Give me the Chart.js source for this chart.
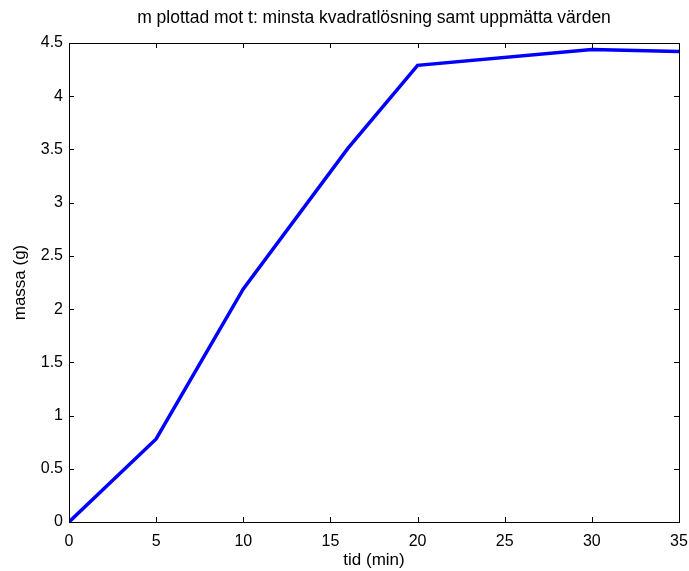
<!DOCTYPE html>
<html>
<head>
<meta charset="utf-8">
<title>m plottad mot t</title>
<script src="https://cdn.jsdelivr.net/npm/chart.js@4.4.1/dist/chart.umd.min.js"></script>
<style>
  html, body { margin: 0; padding: 0; background: #fff; }
  #wrap { width: 689px; height: 571px; }
</style>
</head>
<body>
<div id="wrap"><canvas id="myChart"></canvas></div>
<script>
const tid = [0, 5, 10, 16, 20, 30, 35];
const massa = [0, 0.78, 2.19, 3.51, 4.29, 4.44, 4.42];
const xTicks = [0, 5, 10, 15, 20, 25, 30, 35];
const yTicks = [0, 0.5, 1, 1.5, 2, 2.5, 3, 3.5, 4, 4.5];

const ctx = document.getElementById('myChart');
const font = "'Liberation Sans', Arial, Helvetica, sans-serif";

// box around the plot with short inward tick marks on every side
const boxTicks = {
  id: 'boxTicks',
  afterDraw(chart) {
    const c = chart.ctx;
    const a = chart.chartArea;
    const xs = chart.scales.x, ys = chart.scales.y;
    const len = 5;
    c.save();
    c.strokeStyle = '#000';
    c.lineWidth = 1;
    c.beginPath();
    xTicks.forEach(v => {
      const px = Math.round(xs.getPixelForValue(v)) + 0.5;
      c.moveTo(px, a.bottom); c.lineTo(px, a.bottom - len);
      c.moveTo(px, a.top); c.lineTo(px, a.top + len);
    });
    yTicks.forEach(v => {
      const py = Math.round(ys.getPixelForValue(v)) + 0.5;
      c.moveTo(a.left, py); c.lineTo(a.left + len, py);
      c.moveTo(a.right, py); c.lineTo(a.right - len, py);
    });
    c.stroke();
    c.strokeRect(Math.round(a.left) + 0.5, Math.round(a.top) + 0.5,
      Math.round(a.right - a.left), Math.round(a.bottom - a.top));
    c.restore();
  }
};

function draw() {
  new Chart(ctx, {
    type: 'scatter',
    data: {
      datasets: [{
        data: tid.map((t, i) => ({ x: t, y: massa[i] })),
        showLine: true,
        borderColor: '#0000ff',
        borderWidth: 3.5,
        pointRadius: 0,
        tension: 0
      }]
    },
    options: {
      responsive: true,
      maintainAspectRatio: false,
      animation: false,
      layout: { padding: { left: 0, right: 0, top: 0, bottom: 0 } },
      plugins: {
        legend: { display: false },
        tooltip: { enabled: false },
        title: {
          display: true,
          fullSize: false,
          text: 'm plottad mot t: minsta kvadratlösning samt uppmätta värden',
          color: '#000',
          font: { family: font, size: 17.5, weight: 'normal' },
          padding: { top: 8, bottom: 14 }
        }
      },
      scales: {
        x: {
          type: 'linear',
          min: 0,
          max: 35,
          afterBuildTicks: s => { s.ticks = xTicks.map(v => ({ value: v })); },
          afterFit: s => {
            s.height = 49;
            s.paddingLeft = 0;
            s.paddingRight = 10;
          },
          grid: { display: false, drawTicks: false },
          border: { display: false },
          ticks: {
            color: '#000',
            padding: 10,
            font: { family: font, size: 16 },
            callback: v => String(v)
          },
          title: {
            display: true,
            text: 'tid (min)',
            color: '#000',
            font: { family: font, size: 17 },
            padding: { top: 0, bottom: 0 }
          }
        },
        y: {
          min: 0,
          max: 4.5,
          afterBuildTicks: s => { s.ticks = yTicks.map(v => ({ value: v })); },
          afterFit: s => { s.width = 69; },
          grid: { display: false, drawTicks: false },
          border: { display: false },
          ticks: {
            color: '#000',
            padding: 6,
            font: { family: font, size: 16 },
            callback: v => String(v)
          },
          title: {
            display: true,
            text: 'massa (g)',
            color: '#000',
            font: { family: font, size: 17 },
            padding: { top: 10, bottom: 0 }
          }
        }
      }
    },
    plugins: [boxTicks]
  });
}

draw();
</script>
</body>
</html>
